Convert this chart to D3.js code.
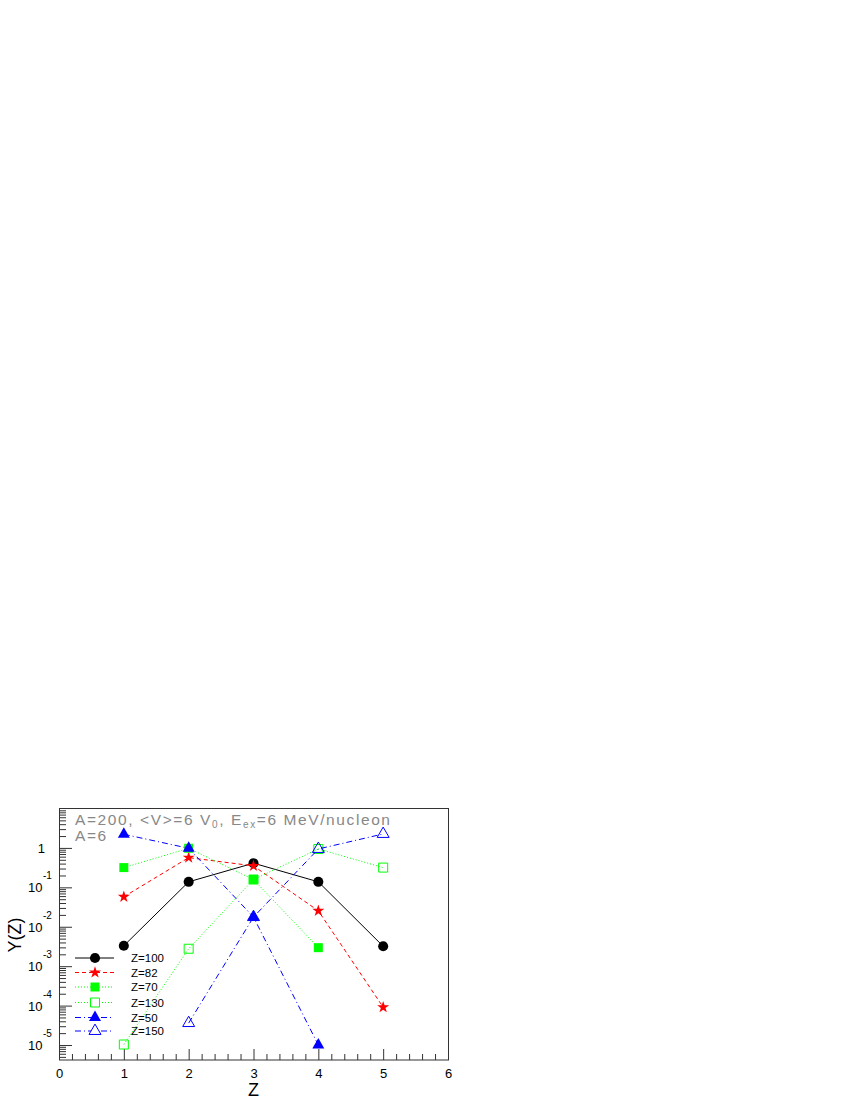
<!DOCTYPE html>
<html>
<head>
<meta charset="utf-8">
<script src="https://cdn.jsdelivr.net/npm/d3@7"></script>
<style>
  body { margin: 0; background: #fff; }
  text { font-family: "Liberation Sans", Arial, sans-serif; }
</style>
</head>
<body>
<div id="chart"></div>
<script>
// values (Y on a log scale)
var zValues = [1, 2, 3, 4, 5];
var seriesNames = ["Z=100", "Z=82", "Z=70", "Z=130", "Z=50", "Z=150"];
var yZ100 = [3.3e-3, 0.138, 0.41, 0.138, 3.2e-3];
var yZ82 = [0.0575, 0.568, 0.35, 0.0254, 9.1e-5];
var yZ70 = [0.317, 0.98, 0.158, 2.95e-3, null];
var yZ130 = [1.03e-5, 2.77e-3, 0.158, 0.94, 0.317];
var yZ50 = [2.22, 0.98, 0.0176, 1.0e-5, null];
var yZ150 = [null, 3.6e-5, 0.0176, 0.94, 2.26];
var xTicks = [0, 1, 2, 3, 4, 5, 6];
var yExponents = [-5, -4, -3, -2, -1, 0];

var seriesData = [yZ100, yZ82, yZ70, yZ130, yZ50, yZ150];

//styles for each series, same order as seriesNames
var styles = [
  {color: "#000000", dash: null, symbol: d3.symbolCircle, size: 80, open: false},
  {color: "#ff0000", dash: "4,3", symbol: d3.symbolStar, size: 45, open: false},
  {color: "#00ff00", dash: "1,2", symbol: d3.symbolSquare, size: 81, open: false},
  {color: "#00ff00", dash: "1,2", symbol: d3.symbolSquare, size: 81, open: true},
  {color: "#0000ff", dash: "6,3,1,3", symbol: d3.symbolTriangle, size: 62, open: false},
  {color: "#0000ff", dash: "6,3,1,3", symbol: d3.symbolTriangle, size: 62, open: true}
];

var svgWidth = 850;
var svgHeight = 1100;

var svg = d3.select("#chart")
  .append("svg")
  .attr("width", svgWidth)
  .attr("height", svgHeight);

//frame box in page pixels
var frame = {left: 59, right: 448, top: 808.5, bottom: 1060};

var xScale = d3.scaleLinear()
  .domain([0, 6])
  .range([frame.left, frame.right]);

var yScale = d3.scaleLog()
  .domain([Math.pow(10, -5.38), 10])
  .range([frame.bottom, frame.top]);

//X AXIS: major ticks at integers, minor every 0.2, ticks point inward
var xMinor = d3.range(0, 6.0001, 0.2).filter(function(v) { return Math.abs(v - Math.round(v)) > 1e-6; });

svg.append("g")
  .attr("transform", `translate(0, ${frame.bottom})`)
  .call(d3.axisBottom(xScale).tickValues(xMinor).tickSize(-6).tickFormat(""))
  .call(g => g.select(".domain").remove());

var xAxisG = svg.append("g")
  .attr("transform", `translate(0, ${frame.bottom})`)
  .call(d3.axisBottom(xScale).tickValues(xTicks).tickSize(-11).tickPadding(9).tickFormat(d3.format("d")));
xAxisG.select(".domain").remove();
xAxisG.selectAll("text").attr("font-size", 13).attr("font-family", "Liberation Sans, Arial, sans-serif");

//Y AXIS: log ticks, drawn inward
var yMinor = [];
for (var e = -6; e <= 0; e++) {
  for (var m = 2; m <= 9; m++) {
    var v = m * Math.pow(10, e);
    if (v >= yScale.domain()[0] && v <= yScale.domain()[1]) yMinor.push(v);
  }
}
var yMajor = yExponents.map(function(k) { return Math.pow(10, k); });

svg.append("g")
  .attr("transform", `translate(${frame.left}, 0)`)
  .call(d3.axisLeft(yScale).tickValues(yMinor).tickSize(-7).tickFormat(""))
  .call(g => g.select(".domain").remove());

svg.append("g")
  .attr("transform", `translate(${frame.left}, 0)`)
  .call(d3.axisLeft(yScale).tickValues(yMajor).tickSize(-13).tickFormat(""))
  .call(g => g.select(".domain").remove());

svg.selectAll(".tick line").attr("stroke", "#333");

//Y tick labels, ROOT style 10^n
var yLabels = svg.append("g").attr("font-size", 13).attr("fill", "#000");
yExponents.forEach(function(k) {
  var yy = yScale(Math.pow(10, k));
  if (k === 0) {
    yLabels.append("text").attr("x", 45).attr("y", yy + 5).attr("text-anchor", "end").text("1");
  } else {
    yLabels.append("text").attr("x", 42.5).attr("y", yy + 5).attr("text-anchor", "end").text("10");
    yLabels.append("text").attr("x", 43).attr("y", yy - 8).attr("font-size", 10).text(String(k));
  }
});

//frame
svg.append("rect")
  .attr("x", frame.left + 0.5)
  .attr("y", frame.top)
  .attr("width", frame.right - frame.left)
  .attr("height", frame.bottom - frame.top)
  .attr("fill", "none")
  .attr("stroke", "#333")
  .attr("stroke-width", 1);

//axis titles
svg.append("text")
  .attr("transform", "translate(21, 935) rotate(-90)")
  .attr("text-anchor", "middle")
  .attr("font-size", 18)
  .text("Y(Z)");

svg.append("text")
  .attr("x", xScale(3))
  .attr("y", 1096)
  .attr("text-anchor", "middle")
  .attr("font-size", 18)
  .text("Z");

//CREATE LINES AND MARKERS
var line = d3.line()
  .defined(d => d.y != null)
  .x(d => xScale(d.x))
  .y(d => yScale(d.y));

seriesData.forEach(function(vals, i) {
  var st = styles[i];
  var pts = zValues.map(function(z, j) { return {x: z, y: vals[j]}; });
  var g = svg.append("g");
  g.append("path")
    .datum(pts)
    .attr("d", line)
    .attr("fill", "none")
    .attr("stroke", st.color)
    .attr("stroke-width", 1)
    .attr("stroke-dasharray", st.dash);
  g.selectAll("path.mark")
    .data(pts.filter(d => d.y != null))
    .enter()
    .append("path")
    .attr("class", "mark")
    .attr("d", d3.symbol().type(st.symbol).size(st.size))
    .attr("transform", d => `translate(${xScale(d.x)}, ${yScale(d.y)})`)
    .attr("fill", st.open ? "none" : st.color)
    .attr("stroke", st.open ? st.color : "none")
    .attr("stroke-width", 1);
});

//LEGEND
var legendRows = [958, 972.5, 987, 1002.5, 1017.5, 1031];
var legend = svg.append("g");
seriesNames.forEach(function(name, i) {
  var st = styles[i];
  var yy = legendRows[i];
  legend.append("line")
    .attr("x1", 75).attr("x2", 114)
    .attr("y1", yy).attr("y2", yy)
    .attr("stroke", st.color)
    .attr("stroke-width", 1)
    .attr("stroke-dasharray", st.dash);
  legend.append("path")
    .attr("d", d3.symbol().type(st.symbol).size(st.size)())
    .attr("transform", `translate(95, ${yy})`)
    .attr("fill", st.open ? "#fff" : st.color)
    .attr("stroke", st.open ? st.color : "none");
  legend.append("text")
    .attr("x", 131)
    .attr("y", yy + 4)
    .attr("font-size", 11.5)
    .text(name);
});

//title text inside frame
var title = svg.append("text")
  .attr("x", 75)
  .attr("y", 825)
  .attr("font-size", 15.5)
  .attr("fill", "#888")
  .attr("letter-spacing", 1.6);
title.append("tspan").text("A=200, <V>=6 V");
title.append("tspan").attr("font-size", 10).attr("dy", 3).text("0");
title.append("tspan").attr("dy", -3).text(", E");
title.append("tspan").attr("font-size", 10).attr("dy", 3).text("ex");
title.append("tspan").attr("dy", -3).text("=6 MeV/nucleon");

svg.append("text")
  .attr("x", 75)
  .attr("y", 840.5)
  .attr("font-size", 15.5)
  .attr("fill", "#888")
  .attr("letter-spacing", 1.6)
  .text("A=6");
</script>
</body>
</html>
